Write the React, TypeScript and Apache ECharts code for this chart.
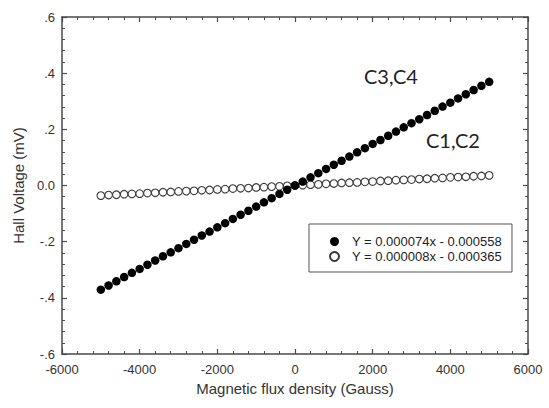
import React, { useEffect, useRef } from "react";
import * as echarts from "echarts";

const fluxGauss = [
  -5000, -4800, -4600, -4400, -4200, -4000, -3800, -3600, -3400, -3200,
  -3000, -2800, -2600, -2400, -2200, -2000, -1800, -1600, -1400, -1200,
  -1000, -800, -600, -400, -200, 0, 200, 400, 600, 800,
  1000, 1200, 1400, 1600, 1800, 2000, 2200, 2400, 2600, 2800,
  3000, 3200, 3400, 3600, 3800, 4000, 4200, 4400, 4600, 4800,
  5000,
];

const voltageC3C4 = [
  -0.371, -0.356, -0.341, -0.326, -0.311, -0.297, -0.282, -0.267, -0.252, -0.238,
  -0.223, -0.208, -0.193, -0.178, -0.164, -0.149, -0.134, -0.119, -0.104, -0.090,
  -0.075, -0.060, -0.045, -0.030, -0.015, 0.000, 0.014, 0.029, 0.044, 0.059,
  0.074, 0.088, 0.103, 0.118, 0.133, 0.148, 0.162, 0.177, 0.192, 0.207,
  0.222, 0.236, 0.251, 0.266, 0.281, 0.295, 0.310, 0.325, 0.340, 0.355,
  0.369,
];

const voltageC1C2 = [
  -0.036, -0.034, -0.033, -0.031, -0.030, -0.029, -0.027, -0.026, -0.024, -0.023,
  -0.021, -0.020, -0.019, -0.017, -0.016, -0.014, -0.013, -0.011, -0.010, -0.009,
  -0.007, -0.006, -0.004, -0.003, -0.001, 0.000, 0.001, 0.003, 0.004, 0.006,
  0.007, 0.009, 0.010, 0.011, 0.013, 0.014, 0.016, 0.017, 0.019, 0.020,
  0.021, 0.023, 0.024, 0.026, 0.027, 0.029, 0.030, 0.031, 0.033, 0.034,
  0.036,
];

const seriesNames = ["Y = 0.000074x - 0.000558", "Y = 0.000008x - 0.000365"];
const annotations = ["C3,C4", "C1,C2"];
const xTitle = "Magnetic flux density (Gauss)";
const yTitle = "Hall Voltage (mV)";

const AXIS_COLOR = "#4a4a4a";
const TEXT_COLOR = "#333333";
const FONT = "'Liberation Sans', Arial, sans-serif";

function yLabel(v: number): string {
  if (Math.abs(v) < 1e-9) return "0.0";
  const d = Math.round(Math.abs(v) * 10);
  return (v < 0 ? "-" : "") + "." + d;
}

function xLabel(v: number): string {
  return String(Math.round(v));
}

export default function App() {
  const ref = useRef<HTMLDivElement>(null);
  useEffect(() => {
    if (!ref.current) return;
    const chart = echarts.init(ref.current, null, { renderer: "svg" });
    const axisLine = { show: true, onZero: false, lineStyle: { color: AXIS_COLOR, width: 1.5 } };
    const axisTick = { show: true, inside: true, length: 5, lineStyle: { color: AXIS_COLOR, width: 1.2 } };
    const minorTick = { show: true, splitNumber: 5, length: 3, lineStyle: { color: AXIS_COLOR, width: 1 } };
    chart.setOption({
      animation: false,
      backgroundColor: "#ffffff",
      grid: { left: 62, top: 17, right: 21, bottom: 54, containLabel: false },
      xAxis: [
        {
          type: "value",
          min: -6000,
          max: 6000,
          interval: 2000,
          position: "bottom",
          axisLine,
          axisTick,
          minorTick,
          splitLine: { show: false },
          axisLabel: { color: TEXT_COLOR, fontSize: 13, fontFamily: FONT, margin: 9, formatter: xLabel },
          name: xTitle,
          nameLocation: "middle",
          nameGap: 26,
          nameTextStyle: { color: TEXT_COLOR, fontSize: 15, fontFamily: FONT },
        },
        {
          type: "value",
          min: -6000,
          max: 6000,
          interval: 2000,
          position: "top",
          axisLine,
          axisTick,
          minorTick,
          splitLine: { show: false },
          axisLabel: { show: false },
        },
      ],
      yAxis: [
        {
          type: "value",
          min: -0.6,
          max: 0.6,
          interval: 0.2,
          position: "left",
          axisLine,
          axisTick,
          minorTick,
          splitLine: { show: false },
          axisLabel: { color: TEXT_COLOR, fontSize: 13, fontFamily: FONT, margin: 7, formatter: yLabel },
          name: yTitle,
          nameLocation: "middle",
          nameGap: 36,
          nameTextStyle: { color: TEXT_COLOR, fontSize: 15, fontFamily: FONT },
        },
        {
          type: "value",
          min: -0.6,
          max: 0.6,
          interval: 0.2,
          position: "right",
          axisLine,
          axisTick,
          minorTick,
          splitLine: { show: false },
          axisLabel: { show: false },
        },
      ],
      legend: {
        left: 309,
        top: 224,
        orient: "vertical",
        padding: [11, 10, 9, 20],
        itemGap: 2,
        itemWidth: 9,
        itemHeight: 9,
        borderColor: "#555555",
        borderWidth: 1,
        backgroundColor: "#ffffff",
        textStyle: { color: "#222222", fontSize: 13, fontFamily: FONT, padding: [0, 0, 0, 8] },
        data: [
          { name: seriesNames[0], icon: "circle" },
          { name: seriesNames[1], icon: "circle" },
        ],
      },
      graphic: [
        {
          type: "text",
          left: 364,
          top: 66,
          style: { text: annotations[0], fill: "#222222", font: "20px Lato, sans-serif" },
        },
        {
          type: "text",
          left: 426,
          top: 130,
          style: { text: annotations[1], fill: "#222222", font: "20px Lato, sans-serif" },
        },
      ],
      series: [
        {
          name: seriesNames[1],
          type: "scatter",
          xAxisIndex: 0,
          yAxisIndex: 0,
          symbol: "circle",
          symbolSize: 7.6,
          itemStyle: { color: "#ffffff", borderColor: "#3a3a3a", borderWidth: 1.1, opacity: 1 },
          data: fluxGauss.map((x, i) => [x, voltageC1C2[i]]),
        },
        {
          name: seriesNames[0],
          type: "scatter",
          xAxisIndex: 0,
          yAxisIndex: 0,
          symbol: "circle",
          symbolSize: 8.5,
          itemStyle: { color: "#000000", opacity: 1 },
          data: fluxGauss.map((x, i) => [x, voltageC3C4[i]]),
        },
      ],
    });
    return () => chart.dispose();
  }, []);
  return <div ref={ref} style={{ width: 549, height: 408, position: "absolute", left: 0, top: 0 }} />;
}
